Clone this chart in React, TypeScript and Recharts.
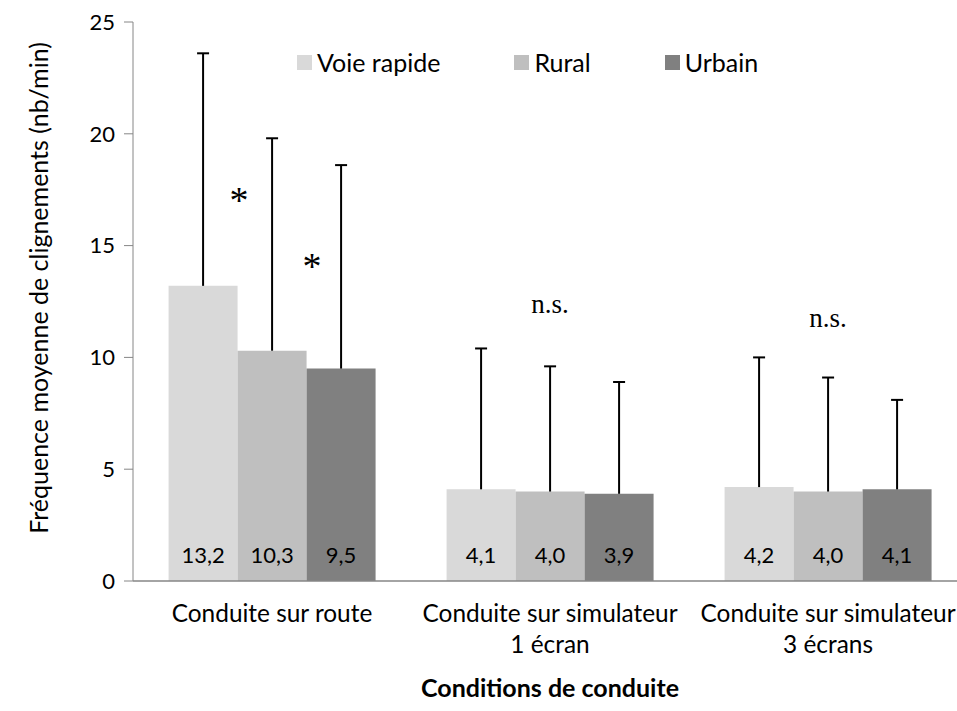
import React from 'react';
import { BarChart, Bar, XAxis, YAxis, ErrorBar, LabelList, Legend, ReferenceDot } from 'recharts';

// Conditions (catégories de l'axe X)
const conditions = ['Conduite sur route', 'Conduite sur simulateur 1 écran', 'Conduite sur simulateur 3 écrans'];
const conditionLines = [['Conduite sur route'], ['Conduite sur simulateur', '1 écran'], ['Conduite sur simulateur', '3 écrans']];

// Moyennes par type de route
const voieRapide = [13.2, 4.1, 4.2];
const rural = [10.3, 4.0, 4.0];
const urbain = [9.5, 3.9, 4.1];

// Écarts-types (barres d'erreur, vers le haut seulement)
const errVoieRapide = [10.4, 6.3, 5.8];
const errRural = [9.5, 5.6, 5.1];
const errUrbain = [9.1, 5.0, 4.0];

const yTicks = [0, 5, 10, 15, 20, 25];

// Annotations de significativité
const stars = [
  { cond: 0, y: 17.4, dx: -33 },
  { cond: 0, y: 14.45, dx: 40 },
];
const nsMarks = [
  { cond: 1, y: 12.3 },
  { cond: 2, y: 11.67 },
];

const series = [
  { key: 'voie', err: 'voieErr', name: 'Voie rapide', color: '#D9D9D9' },
  { key: 'rural', err: 'ruralErr', name: 'Rural', color: '#BFBFBF' },
  { key: 'urbain', err: 'urbainErr', name: 'Urbain', color: '#808080' },
];

const data = conditions.map((name, i) => ({
  name,
  voie: voieRapide[i],
  rural: rural[i],
  urbain: urbain[i],
  voieErr: [0, errVoieRapide[i]],
  ruralErr: [0, errRural[i]],
  urbainErr: [0, errUrbain[i]],
}));

const fmt = (v: number) => v.toFixed(1).replace('.', ',');

const TEXT = 25;
const TICK_TEXT = 24.4;
const NUM = 22;

const CondTick = (props: any) => {
  const { x, y, payload } = props;
  const lines = conditionLines[conditions.indexOf(payload.value)] || [payload.value];
  return (
    <g transform={`translate(${x},${y})`}>
      {lines.map((l, i) => (
        <text key={i} x={0} y={i * 31} dy={41} textAnchor="middle" fill="#000" fontSize={TICK_TEXT}>
          {l}
        </text>
      ))}
    </g>
  );
};

const YTitle = () => (
  <text
    transform="translate(38,288) rotate(-90)"
    textAnchor="middle"
    dominantBaseline="central"
    fill="#000"
    fontSize={TEXT}
  >
    Fréquence moyenne de clignements (nb/min)
  </text>
);

const LegendContent = () => (
  <div style={{ display: 'flex', alignItems: 'center', fontSize: TEXT, color: '#000', whiteSpace: 'nowrap' }}>
    {series.map((s, i) => (
      <div key={s.key} style={{ display: 'flex', alignItems: 'center', marginRight: i < series.length - 1 ? 74 : 0 }}>
        <span style={{ width: 15, height: 15, background: s.color, display: 'inline-block', marginRight: 5 }} />
        <span>{s.name}</span>
      </div>
    ))}
  </div>
);

const App = () => (
  <div style={{ position: 'absolute', left: 0, top: 0, width: 957, height: 711, overflow: 'hidden', background: '#fff', fontFamily: 'Lato' }}>
    <style>{`.recharts-errorBar line:nth-of-type(3){display:none}`}</style>
    <BarChart
      width={1000}
      height={711}
      data={data}
      margin={{ top: 22, right: 33, bottom: 0, left: 0 }}
      barGap={0}
      barCategoryGap="12.8%"
    >
      <XAxis
        dataKey="name"
        height={130}
        interval={0}
        tickLine={false}
        tickSize={0}
        tickMargin={0}
        axisLine={{ stroke: '#868686', strokeWidth: 1.5 }}
        tick={<CondTick />}
        label={{ value: 'Conditions de conduite', position: 'insideBottom', offset: 14, fill: '#000', fontSize: TEXT, fontWeight: 'bold' }}
      />
      <YAxis
        width={133}
        domain={[0, 25]}
        ticks={yTicks}
        tickSize={9}
        tickMargin={9}
        axisLine={{ stroke: '#868686' }}
        tickLine={{ stroke: '#868686' }}
        tick={{ fill: '#000', fontSize: NUM }}
        label={{ content: <YTitle /> }}
      />
      <Legend
        verticalAlign="middle"
        align="center"
        content={<LegendContent />}
        wrapperStyle={{ top: 47, left: 297, width: 'auto' }}
      />
      {series.map((s) => (
        <Bar key={s.key} dataKey={s.key} name={s.name} fill={s.color} isAnimationActive={false}>
          <ErrorBar dataKey={s.err} width={6} strokeWidth={2} stroke="#000" direction="y" isAnimationActive={false} />
          <LabelList dataKey={s.key} position="insideBottom" offset={18} formatter={fmt} fill="#000" fontSize={NUM} />
        </Bar>
      ))}
      {stars.map((s, i) => (
        <ReferenceDot
          key={'s' + i}
          x={conditions[s.cond]}
          y={s.y}
          r={0}
          fill="none"
          stroke="none"
          label={(p: any) => (
            <text x={p.viewBox.x + s.dx} y={p.viewBox.y} dy={21} textAnchor="middle" fontFamily="Liberation Serif" fontSize={38} fill="#000">
              *
            </text>
          )}
        />
      ))}
      {nsMarks.map((n, i) => (
        <ReferenceDot
          key={'n' + i}
          x={conditions[n.cond]}
          y={n.y}
          r={0}
          fill="none"
          stroke="none"
          label={(p: any) => (
            <text x={p.viewBox.x} y={p.viewBox.y} dy={7} textAnchor="middle" fontFamily="Liberation Serif" fontSize={27} fill="#000">
              n.s.
            </text>
          )}
        />
      ))}
    </BarChart>
  </div>
);

export default App;
